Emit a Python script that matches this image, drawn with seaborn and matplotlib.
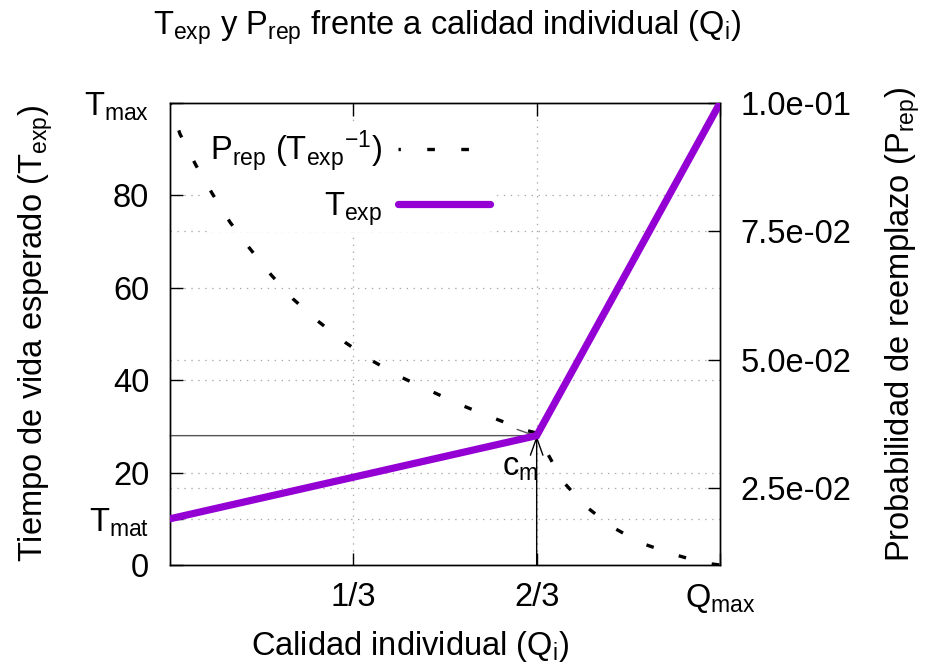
import matplotlib
matplotlib.use("Agg")
import matplotlib.pyplot as plt
import matplotlib.transforms as mtransforms
import seaborn as sns
import numpy as np

# ---- data ----
q_texp = [0.0, 2/3, 1.0]                 # Calidad individual (Q_i)
texp = [10.0, 28.0, 100.0]               # T_exp

q_prep = [0.0, 0.018, 0.047, 0.076, 0.109, 0.144, 0.184, 0.224, 0.269, 0.318,
          0.369, 0.420, 0.478, 0.533, 0.589, 0.645, 0.667, 0.685, 0.715, 0.755,
          0.804, 0.856, 0.915, 0.971, 1.0]
prep = [0.100, 0.0940, 0.0879, 0.0825, 0.0768, 0.0718, 0.0665, 0.0618, 0.0575, 0.0534,
        0.0497, 0.0466, 0.0437, 0.0410, 0.0386, 0.0363, 0.0357, 0.0320, 0.0262, 0.0215,
        0.0174, 0.0143, 0.0121, 0.0104, 0.0100]

x_ticks = [1/3, 2/3, 1.0]
x_ticklabels = ["1/3", "2/3", r"Q$_\mathrm{max}$"]
left_ticks = [0, 10, 20, 40, 60, 80, 100]
left_ticklabels = ["0", r"T$_\mathrm{mat}$", "20", "40", "60", "80", r"T$_\mathrm{max}$"]
right_ticks = [0.025, 0.05, 0.075, 0.1]
right_ticklabels = ["2.5e-02", "5.0e-02", "7.5e-02", "1.0e-01"]

sns.set_theme(style="white")
plt.rcParams["font.family"] = ["Liberation Sans", "DejaVu Sans"]
plt.rcParams["mathtext.fontset"] = "custom"
plt.rcParams["mathtext.rm"] = "Liberation Sans"
plt.rcParams["mathtext.it"] = "Liberation Sans:italic"
plt.rcParams["mathtext.bf"] = "Liberation Sans:bold"
plt.rcParams["lines.scale_dashes"] = False
for k in ["text.color", "axes.labelcolor", "xtick.color", "ytick.color", "axes.edgecolor"]:
    plt.rcParams[k] = "black"

FS = 23.5
purple = "#9400D3"
grid_kw = dict(color="#a8a8a8", lw=0.9, linestyle=(0, (1, 4)))

fig = plt.figure(figsize=(9.25, 6.67), dpi=100)
# ax_p (bottom) holds P_rep, grids and legend; ax_t (top) holds T_exp with left ticks
ax_p = fig.add_axes([170/925, 1-565/667, 550/925, 462/667])
ax_t = ax_p.twinx()
ax_t.yaxis.tick_left()
ax_p.yaxis.tick_right()

# P_rep (dotted)
sns.lineplot(x=q_prep, y=prep, ax=ax_p, color="black", lw=2.4, legend=False, zorder=3)
lp = ax_p.lines[-1]
lp.set_linestyle((3.8, (5.5, 19.0)))
lp.set_dash_capstyle("butt")

# T_exp
sns.lineplot(x=q_texp, y=texp, ax=ax_t, color=purple, lw=5.2, legend=False, zorder=3)
lt = ax_t.lines[-1]
lt.set_solid_joinstyle("miter")

ax_p.set_xlim(0, 1)
ax_t.set_xlim(0, 1)
ax_p.set_ylim(0.01, 0.1)
ax_t.set_ylim(0, 100)

ax_p.set_xticks(x_ticks)
ax_p.set_xticklabels(x_ticklabels, fontsize=FS)
ax_p.set_yticks(right_ticks)
ax_p.set_yticklabels(right_ticklabels, fontsize=FS)
ax_t.set_yticks(left_ticks)
ax_t.set_yticklabels(left_ticklabels, fontsize=FS)
ax_t.tick_params(axis="x", which="both", bottom=False, top=False, labelbottom=False, labeltop=False)

ax_p.tick_params(axis="x", direction="in", length=9, width=1, top=True, bottom=True, pad=12, colors="black")
ax_p.tick_params(axis="y", direction="in", length=9, width=1, right=True, left=False, pad=15,
                 labelright=True, labelleft=False, colors="black")
ax_t.tick_params(axis="y", direction="in", length=9, width=1, left=True, right=False, pad=15,
                 labelleft=True, labelright=False, colors="black")

# grids (all in the bottom axes so that the legend box can hide them)
for v in x_ticks[:2]:
    ax_p.axvline(v, zorder=0, **grid_kw)
for v in right_ticks[:3]:
    ax_p.axhline(v, zorder=0, **grid_kw)
blend = mtransforms.blended_transform_factory(ax_p.transAxes, ax_t.transData)
for v in [10, 20, 40, 60, 80]:
    ax_p.plot([0, 1], [v, v], transform=blend, zorder=0, **grid_kw)

for ax in (ax_p, ax_t):
    for s in ax.spines.values():
        s.set_color("black")
        s.set_linewidth(1.0)
    ax.set_xlabel("")
    ax.set_ylabel("")

# annotation arrows for c_m
cm_q, cm_t = q_texp[1], texp[1]
ax_t.annotate("", xy=(cm_q, cm_t), xytext=(0, cm_t),
              arrowprops=dict(arrowstyle="->,head_length=0.7,head_width=0.25", color="#555555",
                              lw=1.0, shrinkA=0, shrinkB=0, mutation_scale=18), zorder=1)
ax_t.annotate("", xy=(cm_q, cm_t), xytext=(cm_q, 0),
              arrowprops=dict(arrowstyle="->,head_length=0.7,head_width=0.25", color="black",
                              lw=1.0, shrinkA=0, shrinkB=0, mutation_scale=18), zorder=1)
ax_t.text(cm_q + 0.003, 24.5, r"c$_\mathrm{m}$", fontsize=FS, ha="right", va="top")

# legend (white box hides grid but sits below the P_rep curve)
leg = ax_p.legend([lp, lt], [r"P$_\mathrm{rep}$ (T$_\mathrm{exp}$$^{-1}$)", r"T$_\mathrm{exp}$"],
                  loc="upper right", bbox_to_anchor=(0.59, 0.955), fontsize=FS,
                  markerfirst=False, frameon=True, facecolor="white", edgecolor="none",
                  framealpha=1, handlelength=2.8, handletextpad=0.5, labelspacing=0.5,
                  borderpad=0.15, borderaxespad=0)
leg.set_zorder(1)

# titles / labels
fig.text(447/925, 1-28/667, r"T$_\mathrm{exp}$ y P$_\mathrm{rep}$ frente a calidad individual (Q$_\mathrm{i}$)",
         fontsize=FS, ha="center", va="center")
fig.text(410/925, 1-647/667, r"Calidad individual (Q$_\mathrm{i}$)", fontsize=FS, ha="center", va="center")
fig.text(36/925, 1-334/667, r"Tiempo de vida esperado (T$_\mathrm{exp}$)", fontsize=FS,
         ha="center", va="center", rotation=90)
fig.text(903/925, 1-325/667, r"Probabilidad de reemplazo (P$_\mathrm{rep}$)", fontsize=FS,
         ha="center", va="center", rotation=90)

fig.savefig("out.png", dpi=100, facecolor="white")
